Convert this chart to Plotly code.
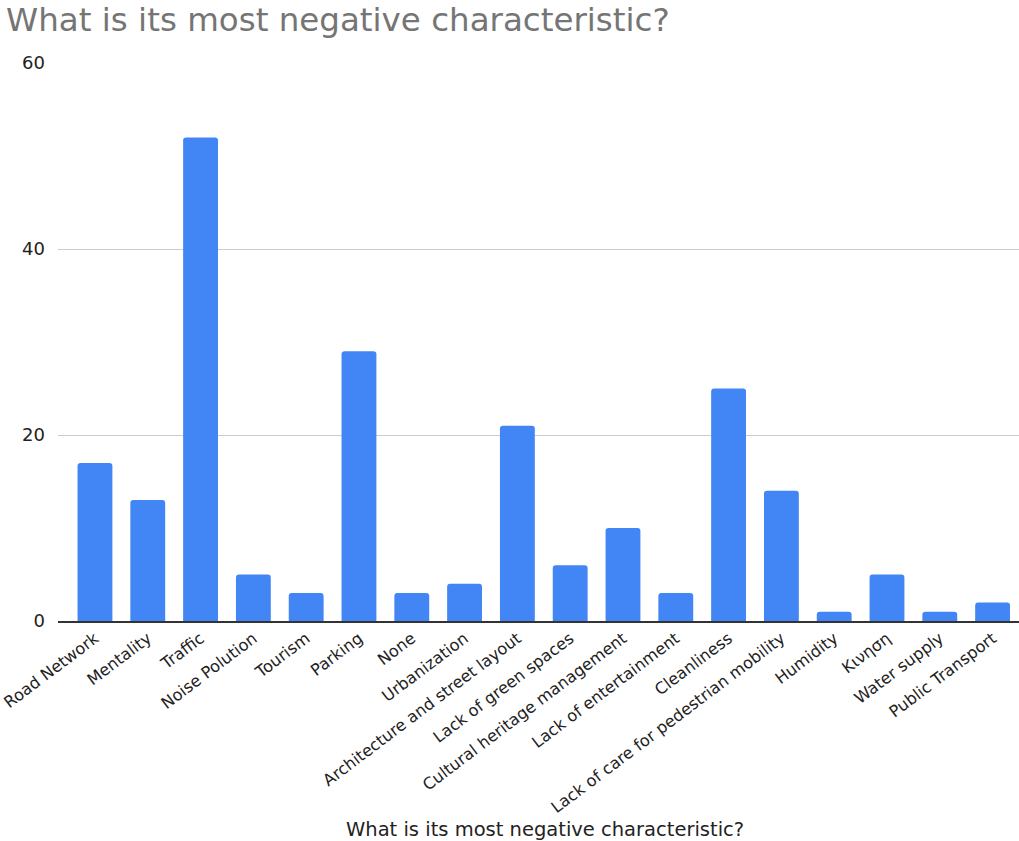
import plotly.graph_objects as go

categories = [
    "Road Network", "Mentality", "Traffic", "Noise Polution", "Tourism",
    "Parking", "None", "Urbanization", "Architecture and street layout",
    "Lack of green spaces", "Cultural heritage management",
    "Lack of entertainment", "Cleanliness",
    "Lack of care for pedestrian mobility", "Humidity", "Κινηση",
    "Water supply", "Public Transport",
]
counts = [17, 13, 52, 5, 3, 29, 3, 4, 21, 6, 10, 3, 25, 14, 1, 5, 1, 2]
y_ticks = [0, 20, 40, 60]

title_text = "What is its most negative characteristic?"
FONT = "DejaVu Sans, Liberation Sans, Arial, sans-serif"

fig = go.Figure(
    go.Bar(
        x=categories,
        y=counts,
        marker=dict(color="#4285F4", line=dict(width=0)),
        width=0.66,
    )
)

fig.update_layout(
    width=1019,
    height=841,
    margin=dict(l=58, r=0, t=63, b=220),
    paper_bgcolor="white",
    plot_bgcolor="white",
    barcornerradius=3,
    showlegend=False,
    font=dict(family=FONT, color="#222222"),
    title=dict(
        text=title_text,
        x=0.006,
        xref="container",
        xanchor="left",
        y=0.977,
        yref="container",
        yanchor="middle",
        font=dict(size=32.5, color="#757575", family=FONT),
    ),
    annotations=[
        dict(
            text=title_text,
            x=0.507,
            y=-0.373,
            xref="paper",
            yref="paper",
            xanchor="center",
            yanchor="middle",
            showarrow=False,
            font=dict(size=19.5, color="#222222", family=FONT),
        )
    ],
)

fig.update_xaxes(
    type="category",
    range=[-0.7, 17.5],
    tickangle=-37,
    tickfont=dict(size=16.2, color="#222222", family=FONT),
    showgrid=False,
    showline=True,
    linecolor="#333333",
    linewidth=1.5,
    ticks="",
    automargin=False,
)

fig.update_yaxes(
    range=[0, 60],
    tickvals=y_ticks,
    tickfont=dict(size=18, color="#222222", family=FONT),
    showgrid=True,
    gridcolor="#cccccc",
    gridwidth=1,
    zeroline=False,
    showline=False,
    ticks="",
    ticklabelstandoff=12,
    automargin=False,
)

fig.write_html("out.html")
